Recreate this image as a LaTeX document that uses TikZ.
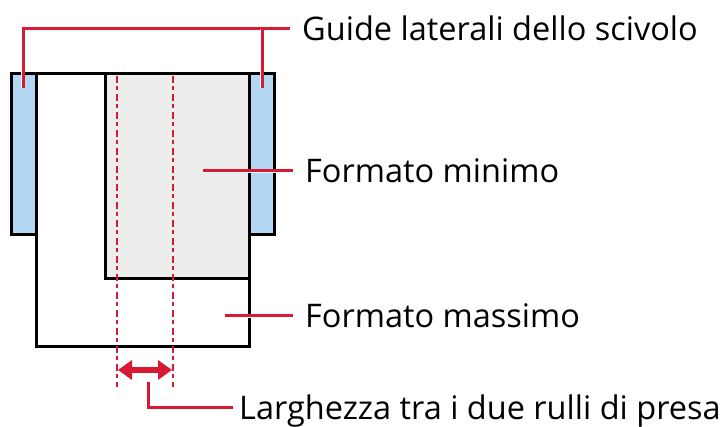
\documentclass[tikz,border=0pt]{standalone}
\usepackage{fontspec}
\setmainfont{Open Sans}
\usepackage{xcolor}
\usetikzlibrary{arrows.meta, positioning}
\definecolor{ChuteRed}{RGB}{215, 25, 50}
\definecolor{ChuteBlue}{RGB}{179, 214, 242}
\definecolor{ChuteGray}{RGB}{237, 237, 237}

\tikzset{
  frame/.style={draw=black, line width=3pt},
  leader/.style={draw=ChuteRed, line width=3pt,
    preaction={draw=white, line width=4.6pt}},
  rollline/.style={draw=ChuteRed, line width=2.6pt,
    dash pattern=on 7pt off 3.5pt on 4pt off 3.5pt},
  caption/.style={anchor=west, inner xsep=12pt, inner ysep=0pt,
    text height=23pt, text depth=0pt, font=\fontsize{32.5}{38}\selectfont},
}

\begin{document}
\begin{tikzpicture}[x=1pt, y=-1pt]
    \path[use as bounding box] (0,0) rectangle (723,427);
    % sheets and chute guides
    \draw[frame, fill=white] (36,74) rectangle (249,347);
    \draw[frame, fill=ChuteGray] (105,74) rectangle (249,279);
    \draw[frame, fill=ChuteBlue] (11,74) rectangle (36,235);
    \draw[frame, fill=ChuteBlue] (249,74) rectangle (274,235);
    % pick rollers
    \draw[rollline] (117,76) -- (117,387);
    \draw[rollline] (173,76) -- (173,387);
    \draw[ChuteRed, line width=6pt,
      {Triangle[length=14pt, width=19pt]}-{Triangle[length=14pt, width=19pt]}]
      (118,370) -- (172,370);

    % labels
    \node[caption] (guides) at (290,29) {Guide laterali dello scivolo};
    \node[caption] (minsize) at (293,171) {Formato minimo};
    \node[caption] (maxsize) at (293,316) {Formato massimo};
    \node[caption, inner xsep=6pt] (rollwidth) at (233,408) {Larghezza tra i due rulli di presa};

    \coordinate (guideL) at (23,88);
    \coordinate (guideR) at (262,88);
    \coordinate (minpt) at (203,171);
    \coordinate (maxpt) at (225,316);
    \coordinate (rollpt) at (148,382);

    \draw[leader] (guideL) |- (guides.west);
    \draw[leader] (guideR) -- (guideR |- guides.west);
    \draw[leader] (minpt) -- (minsize.west);
    \draw[leader] (maxpt) -- (maxsize.west);
    \draw[leader] (rollpt) |- (rollwidth.west);
  \end{tikzpicture}
\end{document}
